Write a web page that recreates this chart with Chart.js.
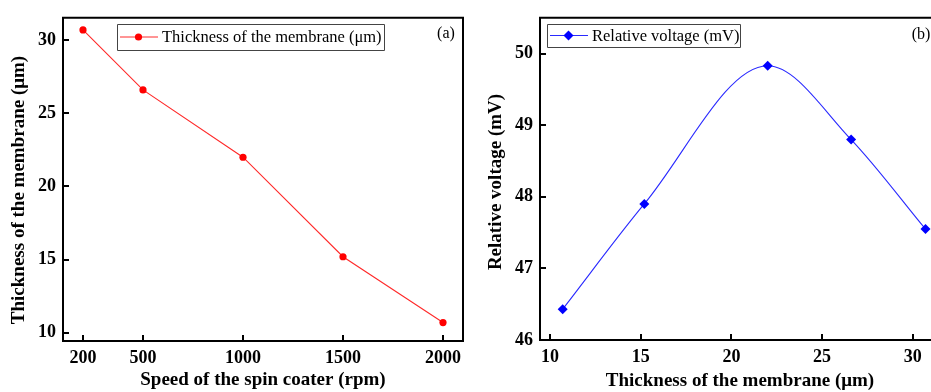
<!DOCTYPE html>
<html>
<head>
<meta charset="utf-8">
<script src="https://cdn.jsdelivr.net/npm/chart.js@4.4.0/dist/chart.umd.min.js"></script>
<style>
  html, body { margin: 0; padding: 0; background: #fff; overflow: hidden; width: 931px; height: 392px; }
  #wrapA { position: absolute; left: 0; top: 0; width: 470px; height: 392px; }
  #wrapB { position: absolute; left: 470px; top: 0; width: 480px; height: 392px; }
</style>
</head>
<body>
<div id="wrapA"><canvas id="chartA" width="470" height="392"></canvas></div>
<div id="wrapB"><canvas id="chartB" width="480" height="392"></canvas></div>
<script>
// ── (a) spin speed -> membrane thickness ─────────────
const speedRpm    = [200, 500, 1000, 1500, 2000];
const thicknessUm = [30.7, 26.6, 22.0, 15.2, 10.7];
const speedTicks  = [200, 500, 1000, 1500, 2000];
const thickTicks  = [10, 15, 20, 25, 30];

// ── (b) membrane thickness -> relative voltage ───────
const thicknessB  = [10.7, 15.2, 22.0, 26.6, 30.7];
const voltageMv   = [46.43, 47.9, 49.83, 48.8, 47.55];
const thickTicksB = [10, 15, 20, 25, 30];
const voltTicks   = [46, 47, 48, 49, 50];

const SERIF = '"Liberation Serif", "Times New Roman", serif';
Chart.defaults.font.family = SERIF;
Chart.defaults.color = '#000';

const RED  = '#ff2a2a';
const BLUE = '#2a2aff';

// frame, inward ticks, y title, boxed legend and panel tag
const framePlugin = {
  id: 'frame',
  afterDraw(chart, args, opts) {
    const { ctx, chartArea: a, scales } = chart;
    ctx.save();
    ctx.strokeStyle = '#000';
    ctx.lineWidth = 2;
    ctx.beginPath();
    ctx.rect(a.left, a.top, a.right - a.left, a.bottom - a.top);
    scales.x.ticks.forEach(t => {
      const px = Math.round(scales.x.getPixelForValue(t.value));
      ctx.moveTo(px, a.bottom);
      ctx.lineTo(px, a.bottom - 6);
    });
    scales.y.ticks.forEach(t => {
      const py = Math.round(scales.y.getPixelForValue(t.value));
      ctx.moveTo(a.left, py);
      ctx.lineTo(a.left + 6, py);
    });
    ctx.stroke();

    // y axis title (rotated)
    ctx.save();
    ctx.translate(opts.yTitle.x, opts.yTitle.y);
    ctx.rotate(-Math.PI / 2);
    ctx.fillStyle = '#000';
    ctx.font = 'bold 19px ' + SERIF;
    ctx.textAlign = 'center';
    ctx.textBaseline = 'middle';
    ctx.fillText(opts.yTitle.text, 0, 0);
    ctx.restore();

    // legend
    const ds = chart.data.datasets[0];
    const [bx, by, bw, bh] = opts.box;
    const cy = by + bh / 2;
    ctx.lineWidth = 1;
    ctx.strokeStyle = '#444';
    ctx.beginPath();
    ctx.rect(bx + 0.5, by + 0.5, bw, bh);
    ctx.stroke();
    ctx.strokeStyle = ds.borderColor;
    ctx.beginPath();
    ctx.moveTo(bx + 3, cy);
    ctx.lineTo(bx + 41, cy);
    ctx.stroke();
    ctx.fillStyle = ds.pointBackgroundColor;
    Chart.helpers.drawPoint(ctx, { pointStyle: ds.pointStyle, radius: ds.pointRadius, borderWidth: 0 }, bx + 21.5, cy);
    ctx.fillStyle = '#000';
    ctx.font = '16.5px ' + SERIF;
    ctx.textBaseline = 'middle';
    ctx.textAlign = 'left';
    ctx.fillText(ds.label, bx + 45, cy + 1);

    ctx.font = '16px ' + SERIF;
    ctx.textAlign = 'center';
    ctx.fillText(opts.tag, opts.tagX, opts.tagY);
    ctx.restore();
  }
};

function axis(min, max, tickVals, title, size, tickPad, titlePad) {
  return {
    type: 'linear',
    min, max,
    afterBuildTicks: s => { s.ticks = tickVals.map(v => ({ value: v })); },
    afterFit: s => { if (s.isHorizontal()) s.height = size; else s.width = size; },
    grid:   { display: false, drawTicks: false },
    border: { display: false },
    ticks:  { color: '#000', font: { size: 18, weight: 'bold' }, padding: tickPad, callback: v => String(v) },
    title:  { display: !!title, text: title, color: '#000', font: { size: 19, weight: 'bold' }, padding: titlePad },
  };
}

new Chart(document.getElementById('chartA'), {
  type: 'line',
  data: {
    datasets: [{
      label: 'Thickness of the membrane (μm)',
      data: speedRpm.map((x, i) => ({ x, y: thicknessUm[i] })),
      borderColor: RED,
      borderWidth: 1.1,
      pointBackgroundColor: '#ff0000',
      pointBorderColor: '#ff0000',
      pointBorderWidth: 0,
      pointRadius: 3.6,
      pointStyle: 'circle',
      tension: 0,
    }]
  },
  options: {
    responsive: false,
    animation: false,
    devicePixelRatio: 1,
    layout: { padding: { top: 16, right: 7, left: 0, bottom: 0 } },
    plugins: {
      legend: { display: false },
      tooltip: { enabled: false },
      frame: {
        tag: '(a)', tagX: 446, tagY: 34, box: [117, 24, 267, 26],
        yTitle: { text: 'Thickness of the membrane (μm)', x: 19.5, y: 190 },
      },
    },
    scales: {
      x: axis(100, 2100, speedTicks, 'Speed of the spin coater (rpm)', 51, 7, { bottom: 1 }),
      y: axis(9.44, 31.53, thickTicks, '', 63, 7, 0),
    },
  },
  plugins: [framePlugin],
});

new Chart(document.getElementById('chartB'), {
  type: 'line',
  data: {
    datasets: [{
      label: 'Relative voltage (mV)',
      data: thicknessB.map((x, i) => ({ x, y: voltageMv[i] })),
      borderColor: BLUE,
      borderWidth: 1.1,
      pointBackgroundColor: '#0000ff',
      pointBorderColor: '#0000ff',
      pointBorderWidth: 0,
      pointRadius: 5,
      pointStyle: 'rectRot',
      cubicInterpolationMode: 'monotone',
    }]
  },
  options: {
    responsive: false,
    animation: false,
    devicePixelRatio: 1,
    layout: { padding: { top: 17, right: 10, left: 0, bottom: 0 } },
    plugins: {
      legend: { display: false },
      tooltip: { enabled: false },
      frame: {
        tag: '(b)', tagX: 451, tagY: 35, box: [77, 24, 193, 23],
        yTitle: { text: 'Relative voltage (mV)', x: 26, y: 182 },
      },
    },
    scales: {
      x: axis(9.45, 31.5, thickTicksB, 'Thickness of the membrane (μm)', 52, 7, { bottom: 0 }),
      y: axis(46, 50.5, voltTicks, '', 70, 7, 0),
    },
  },
  plugins: [framePlugin],
});
</script>
</body>
</html>
